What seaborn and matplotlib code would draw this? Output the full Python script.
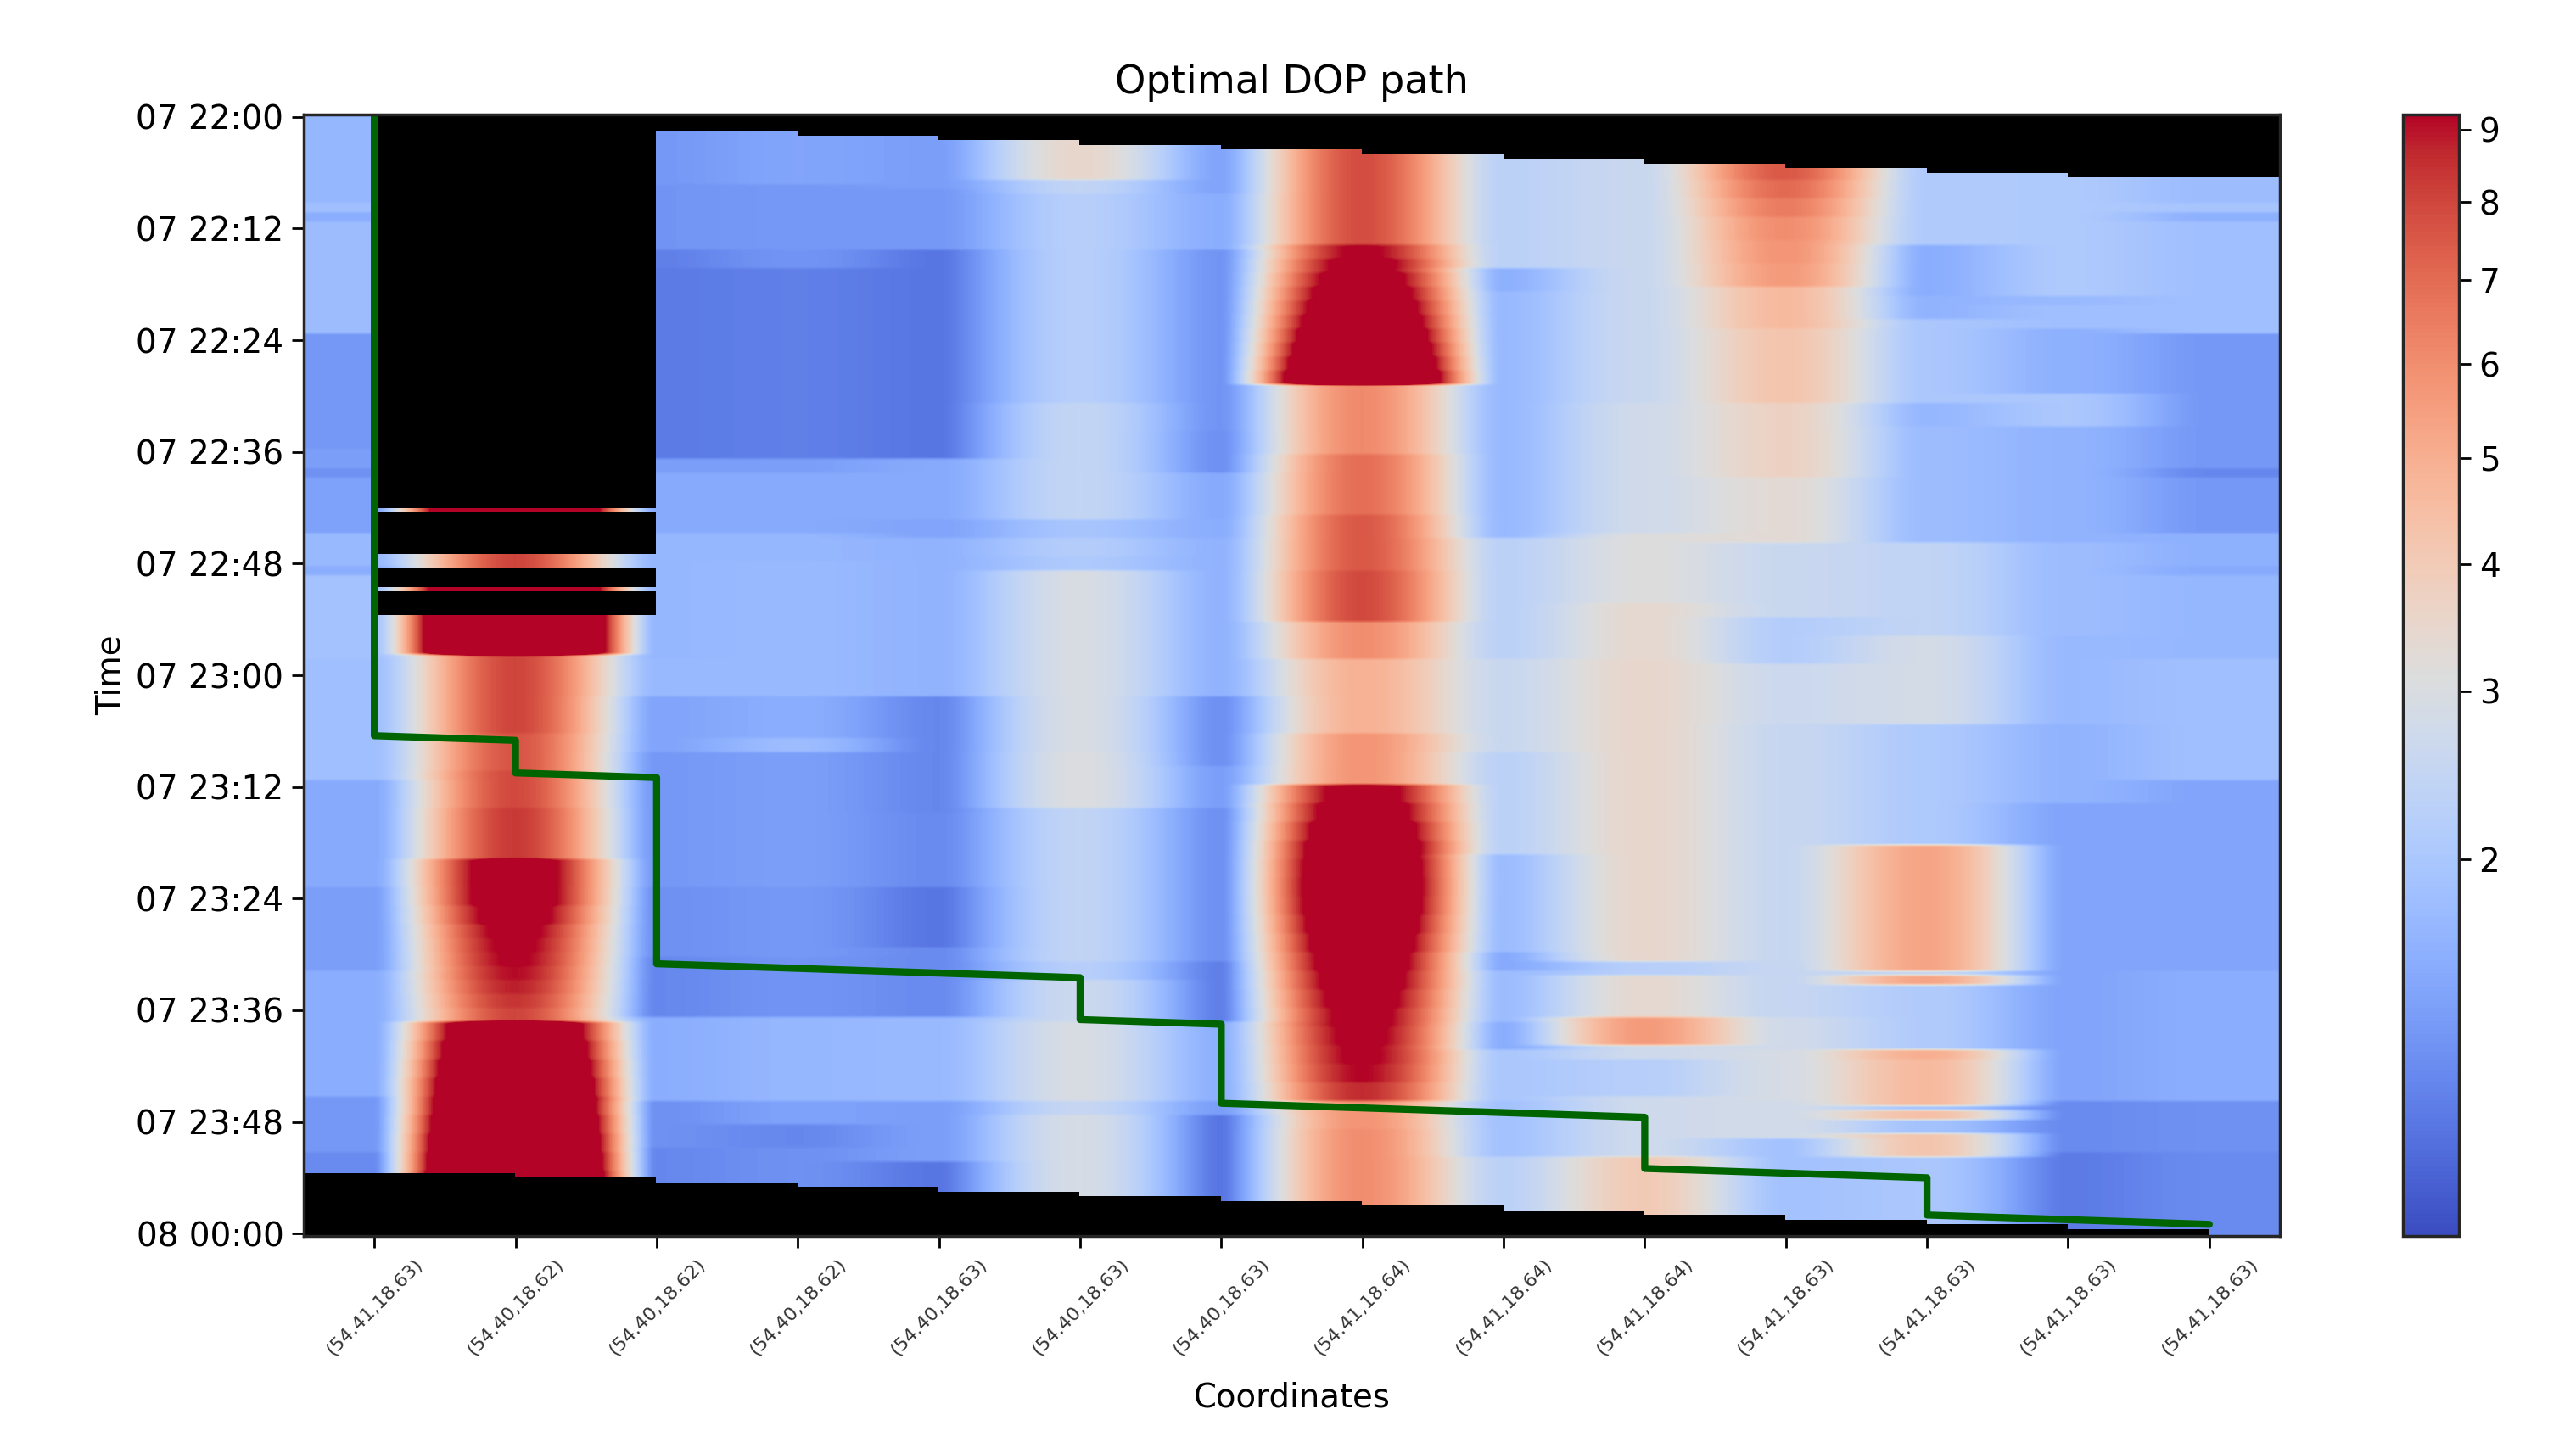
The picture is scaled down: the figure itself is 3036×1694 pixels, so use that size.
import numpy as np
import matplotlib
matplotlib.use('Agg')
import matplotlib.pyplot as plt
from matplotlib.colors import PowerNorm
from matplotlib.ticker import FormatStrFormatter
import seaborn as sns

nan = np.nan
N_ROWS = 241

coords = ['(54.41,18.63)', '(54.40,18.62)', '(54.40,18.62)', '(54.40,18.62)', '(54.40,18.63)',
          '(54.40,18.63)', '(54.40,18.63)', '(54.41,18.64)', '(54.41,18.64)', '(54.41,18.64)',
          '(54.41,18.63)', '(54.41,18.63)', '(54.41,18.63)', '(54.41,18.63)']
time_labels = ['07 22:00', '07 22:12', '07 22:24', '07 22:36', '07 22:48', '07 23:00',
               '07 23:12', '07 23:24', '07 23:36', '07 23:48', '08 00:00']
time_rows = [0, 24, 48, 72, 96, 120, 144, 168, 192, 216, 240]
cbar_ticks = [2, 3, 4, 5, 6, 7, 8, 9]

# last row with data in each column
last_row = [227, 228, 229, 230, 231, 232, 233, 234, 235, 236, 237, 238, 239, 240]

# DOP per column: value holds from that row down to the next one
c0_rows = [0, 19, 21, 23, 47, 72, 76, 78, 90, 97, 99, 117, 143, 166, 184, 211, 223]
c0_vals = [1.7, 1.85, 1.57, 1.79, 1.36, 1.41, 1.3, 1.44, 1.74, 1.57, 1.9, 1.85, 1.53, 1.41, 1.57, 1.36, 1.26]
c1_rows = [1, 84, 86, 94, 98, 101, 103, 107, 116, 133, 141, 149, 160, 170, 174, 177, 180, 183, 186, 189, 192,
           195, 199, 203, 207, 211, 215, 219, 223, 227]
c1_vals = [nan, 24, nan, 8, nan, 24, nan, 28, 8.0, 7.6, 7.9, 8.3, 11.3, 10.6, 9.9, 9.6, 9.4, 9.1, 8.8, 8.4, 8.0,
           16, 17.5, 19, 20.5, 22, 23.5, 25, 26.5, 28]
c2_rows = [2, 15, 29, 33, 74, 77, 90, 96, 117, 125, 137, 166, 181, 194, 212, 222]
c2_vals = [1.36, 1.33, 1.2, 1.18, 1.41, 1.53, 1.7, 1.7, 1.74, 1.47, 1.36, 1.3, 1.24, 1.57, 1.3, 1.24]
c3_rows = [3, 15, 29, 33, 74, 77, 90, 96, 125, 134, 137, 166, 181, 194, 212, 217, 222]
c3_vals = [1.47, 1.36, 1.33, 1.2, 1.41, 1.53, 1.7, 1.74, 1.57, 1.79, 1.41, 1.36, 1.33, 1.7, 1.44, 1.24, 1.3]
c4_rows = [4, 16, 29, 74, 87, 91, 125, 150, 166, 179, 194, 212, 225]
c4_vals = [1.41, 1.36, 1.16, 1.53, 1.47, 1.65, 1.24, 1.26, 1.16, 1.26, 1.74, 1.41, 1.16]
c5_rows = [5, 14, 17, 29, 62, 74, 87, 91, 95, 98, 125, 137, 149, 182, 186, 195, 212, 215]
c5_vals = [3.5, 2.4, 2.2, 2.2, 2.45, 2.45, 1.95, 2.15, 2.05, 2.95, 2.95, 3.05, 2.4, 2.2, 2.65, 2.95, 2.5, 2.9]
c6_rows = [6, 17, 29, 68, 77, 87, 91, 125, 140, 149, 182, 195, 212, 215]
c6_vals = [1.47, 1.57, 1.33, 1.3, 1.53, 1.57, 1.65, 1.3, 1.41, 1.3, 1.2, 1.61, 1.41, 1.16]
c7_rows = [7, 28, 31, 34, 37, 40, 43, 46, 49, 52, 55, 58, 73, 86, 98, 109, 117, 133,
           144, 148, 152, 156, 160, 164, 168, 172, 176, 180, 184, 188, 192, 196, 200, 204, 208, 212, 218]
c7_vals = [7.8, 9.5, 10.3, 11.2, 12.1, 13, 14, 15.2, 16.5, 18, 20, 6.1, 6.9, 7.5, 7.9, 6.0, 4.9, 5.8,
           10.6, 11.5, 12.5, 13.4, 13.8, 14, 13.8, 13.2, 12.5, 11.8, 11.2, 10.6, 10.1, 9.8, 9.5, 9.2, 8.6, 5.8, 6.0]
c8_rows = [8, 33, 38, 91, 117, 137, 159, 180, 184, 195, 201, 212, 224]
c8_vals = [2.3, 1.61, 1.74, 2.3, 2.6, 2.3, 1.79, 1.53, 1.79, 1.57, 2.0, 1.9, 2.3]
c9_rows = [9, 62, 90, 105, 117, 182, 185, 194, 200, 203, 211, 224]
c9_vals = [2.6, 2.75, 3.1, 3.4, 3.5, 2.2, 3.4, 5.6, 2.7, 2.2, 2.7, 4.0]
c10_rows = [10, 14, 18, 22, 27, 32, 37, 46, 62, 78, 92, 108, 118, 131, 158, 182, 194, 201, 212, 220]
c10_vals = [7.5, 7.0, 6.5, 6.0, 5.8, 5.6, 4.6, 4.2, 3.7, 3.3, 2.6, 2.15, 2.65, 2.55, 2.55, 2.5, 2.75, 2.9, 2.8, 1.9]
c11_rows = [11, 28, 39, 44, 62, 67, 92, 112, 131, 157, 184, 185, 187, 201, 203, 213, 214, 216, 219, 224]
c11_vals = [2.1, 1.57, 1.65, 2.0, 1.7, 1.79, 2.4, 2.85, 2.05, 5.3, 2.5, 5.3, 2.1, 5.0, 4.6, 1.9, 4.4, 1.9, 4.2, 2.0]
c12_rows = [12, 39, 41, 46, 60, 67, 92, 112, 131, 148, 212, 223]
c12_vals = [2.05, 1.74, 1.85, 1.61, 2.0, 1.65, 1.79, 1.74, 1.65, 1.47, 1.26, 1.18]
c13_rows = [13, 19, 21, 23, 47, 76, 78, 90, 97, 99, 117, 143, 166, 184, 212, 223]
c13_vals = [1.79, 1.95, 1.61, 1.85, 1.36, 1.24, 1.36, 1.61, 1.53, 1.7, 1.85, 1.47, 1.47, 1.57, 1.3, 1.26]

# optimal path as (column, row)
path_cols = [0, 0, 1, 1, 2, 2, 3, 4, 5, 5, 6, 6, 7, 8, 9, 9, 10, 11, 11, 12, 13]
path_rows = [0, 133, 134, 141, 142, 182, 183, 184, 185, 194, 195, 212, 213, 214, 215, 226, 227, 228, 236, 237, 238]

col_rows = [c0_rows, c1_rows, c2_rows, c3_rows, c4_rows, c5_rows, c6_rows,
            c7_rows, c8_rows, c9_rows, c10_rows, c11_rows, c12_rows, c13_rows]
col_vals = [c0_vals, c1_vals, c2_vals, c3_vals, c4_vals, c5_vals, c6_vals,
            c7_vals, c8_vals, c9_vals, c10_vals, c11_vals, c12_vals, c13_vals]

# Build the grid, NaN where a column has no data
grid = np.full((N_ROWS, len(coords)), nan)
for c in range(len(coords)):
    edges = col_rows[c] + [last_row[c] + 1]
    for i in range(len(col_vals[c])):
        grid[edges[i]:edges[i + 1], c] = col_vals[c][i]

sns.set_theme(style='ticks', rc={'font.family': 'DejaVu Sans', 'text.color': 'black',
                                 'axes.labelcolor': 'black', 'xtick.color': 'black', 'ytick.color': 'black'})
cmap = sns.color_palette('coolwarm', as_cmap=True).copy()
cmap.set_bad('black')

W, H = 3036, 1694
fig = plt.figure(figsize=(W / 200, H / 200), dpi=200)
ax = fig.add_axes([358 / W, 1 - 1457 / H, 2329 / W, 1322 / H])
cax = fig.add_axes([2832 / W, 1 - 1457 / H, 66 / W, 1322 / H])

im = ax.imshow(grid, aspect='auto', cmap=cmap, interpolation='hanning',
               norm=PowerNorm(gamma=0.5, vmin=1.08, vmax=9.22))
sns.lineplot(x=path_cols, y=path_rows, sort=False, estimator=None, color='darkgreen',
             linewidth=3, ax=ax)
ax.set_xlim(-0.5, len(coords) - 0.5)
ax.set_ylim(N_ROWS - 0.5, -0.5)

ax.set_xticks(range(len(coords)))
ax.set_xticklabels(coords, rotation=45, ha='center', fontsize=8, color='#333333')
ax.set_yticks(time_rows)
ax.set_yticklabels(time_labels, fontsize=14)
ax.tick_params(length=5, width=1)
ax.set_xlabel('Coordinates', fontsize=13.9, labelpad=9.5)
ax.set_ylabel('Time', fontsize=13.9)
ax.set_title('Optimal DOP path', fontsize=16.6, pad=9)

cbar = fig.colorbar(im, cax=cax, ticks=cbar_ticks, format=FormatStrFormatter('%d'))
cbar.minorticks_off()
cbar.ax.tick_params(labelsize=14, length=5, width=1)

fig.savefig('out.png', dpi=200)
